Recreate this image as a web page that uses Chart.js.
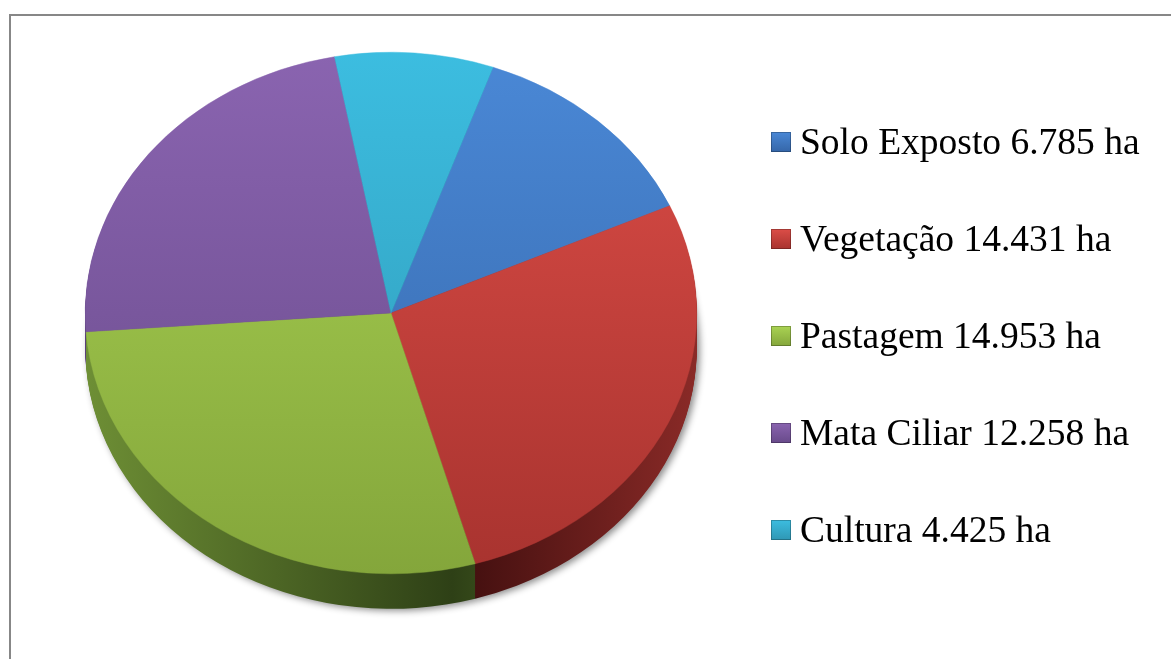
<!DOCTYPE html>
<html>
<head>
<meta charset="utf-8">
<script src="https://cdn.jsdelivr.net/npm/chart.js@4.4.1/dist/chart.umd.min.js"></script>
<style>
    html, body { margin: 0; padding: 0; background: #fff; }
    #wrap { width: 1171px; height: 659px; position: relative; }
</style>
</head>
<body>
<div id="wrap"><canvas id="pie"></canvas></div>
<script>
// Data
const labels = ['Solo Exposto', 'Vegetação', 'Pastagem', 'Mata Ciliar', 'Cultura'];
const areas = [6785, 14431, 14953, 12258, 4425];
const areaText = ['6.785 ha', '14.431 ha', '14.953 ha', '12.258 ha', '4.425 ha'];

// Colours: [top of face, bottom of face]
const topColors = [
    ['#4a88d6', '#3566a8'],
    ['#dc4d47', '#a8332f'],
    ['#aad353', '#84a63b'],
    ['#8a64b0', '#684a8a'],
    ['#3cbde0', '#2f97b4'],
];
const sideColors = [
    ['#2f5588', '#182c48'],
    ['#8a2a27', '#3f0e0e'],
    ['#6e8f35', '#2e4016'],
    ['#5a3f7a', '#2e1f40'],
    ['#2a8aa5', '#144556'],
];

const TILT = 261 / 306;   // vertical squash of the pie face
const DEPTH = 35;         // thickness of the side, screen px

function faceGradient(ctx) {
    const chart = ctx.chart;
    const i = ctx.dataIndex;
    const a = chart.chartArea;
    if (!a) return topColors[i][0];
    const g = chart.ctx.createLinearGradient(0, a.top, 0, a.bottom);
    g.addColorStop(0, topColors[i][0]);
    g.addColorStop(1, topColors[i][1]);
    return g;
}

function wedge(ctx, p, dy) {
    ctx.beginPath();
    ctx.moveTo(p.x, p.y + dy);
    ctx.arc(p.x, p.y + dy, p.outerRadius, p.startAngle, p.endAngle);
    ctx.closePath();
}

const pie3d = {
    id: 'pie3d',
    beforeDatasetsDraw(chart) {
        const ctx = chart.ctx;
        const meta = chart.getDatasetMeta(0);
        const props = meta.data.map(el => el.getProps(['x', 'y', 'startAngle', 'endAngle', 'outerRadius'], true));
        const cx = props[0].x, cy = props[0].y, r = props[0].outerRadius;
        ctx.save();
        ctx.translate(cx, cy);
        ctx.scale(1, TILT);
        ctx.translate(-cx, -cy);

        // side gradients, in squashed space
        const sideFill = sideColors.map(c => {
            const g = ctx.createLinearGradient(cx - r, 0, cx + r, 0);
            g.addColorStop(0, c[0]);
            g.addColorStop(0.6, c[1]);
            g.addColorStop(1, c[0]);
            return g;
        });

        // shadow under the bottom layer
        ctx.save();
        ctx.shadowColor = 'rgba(0,0,0,0.45)';
        ctx.shadowBlur = 7;
        ctx.shadowOffsetX = 3;
        ctx.shadowOffsetY = 2;
        props.forEach((p, i) => {
            wedge(ctx, p, DEPTH / TILT);
            ctx.fillStyle = sideFill[i];
            ctx.fill();
        });
        ctx.restore();

        for (let d = DEPTH - 1; d >= 1; d--) {
            props.forEach((p, i) => {
                wedge(ctx, p, d / TILT);
                ctx.fillStyle = sideFill[i];
                ctx.fill();
            });
        }
    },
    afterDatasetsDraw(chart) {
        chart.ctx.restore();
    }
};

const legendFrame = {
    id: 'legendFrame',
    afterDraw(chart) {
        const ctx = chart.ctx;
        ctx.save();
        // frame (top and left edges only visible)
        ctx.strokeStyle = '#878787';
        ctx.lineWidth = 2;
        ctx.beginPath();
        ctx.moveTo(10, 659);
        ctx.lineTo(10, 15);
        ctx.lineTo(1171, 15);
        ctx.stroke();

        // legend
        ctx.font = '37.5px "Liberation Serif", "Times New Roman", serif';
        ctx.textBaseline = 'alphabetic';
        labels.forEach((lab, i) => {
            const base = 154 + i * 97;
            const bx = 771, by = base - 22, bs = 20;
            const g = ctx.createLinearGradient(0, by, 0, by + bs);
            g.addColorStop(0, topColors[i][0]);
            g.addColorStop(1, topColors[i][1]);
            ctx.fillStyle = g;
            ctx.fillRect(bx, by, bs, bs);
            ctx.strokeStyle = 'rgba(0,0,0,0.25)';
            ctx.lineWidth = 1;
            ctx.strokeRect(bx + 0.5, by + 0.5, bs - 1, bs - 1);
            ctx.fillStyle = '#000';
            ctx.fillText(lab + ' ' + areaText[i], 800, base);
        });
        ctx.restore();
    }
};

new Chart(document.getElementById('pie'), {
    type: 'pie',
    data: {
        labels,
        datasets: [{
            data: areas,
            backgroundColor: faceGradient,
            borderColor: faceGradient,
            borderWidth: 0.5,
        }]
    },
    options: {
        responsive: true,
        maintainAspectRatio: false,
        animation: false,
        rotation: 19.5,
        layout: { padding: { left: 85, right: 474, top: 7, bottom: 40 } },
        plugins: {
            legend: { display: false },
            tooltip: { enabled: false },
        },
    },
    plugins: [pie3d, legendFrame]
});
</script>
</body>
</html>
